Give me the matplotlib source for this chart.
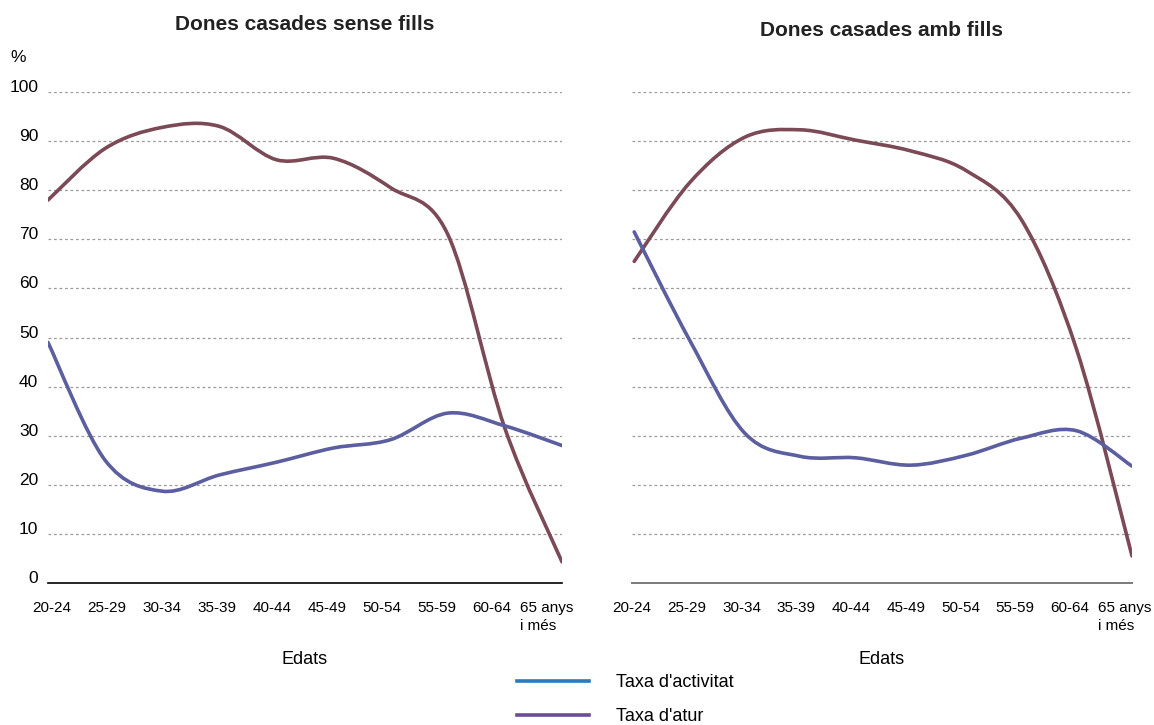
import numpy as np
import matplotlib
matplotlib.use("Agg")
import matplotlib.pyplot as plt
from matplotlib.path import Path
from matplotlib.patches import PathPatch
from matplotlib.lines import Line2D
from matplotlib.transforms import ScaledTranslation

plt.rcParams['font.family'] = ['Liberation Sans', 'DejaVu Sans']

# Dades
edats = ['20-24', '25-29', '30-34', '35-39', '40-44', '45-49',
         '50-54', '55-59', '60-64', '65 anys\ni més']
sense_fills_vermell = [78, 88.5, 92.8, 93.0, 86.2, 86.5, 80.5, 71.0, 31.5, 4.3]
sense_fills_blau = [49, 25.0, 18.7, 22.0, 24.6, 27.5, 29.2, 34.6, 32.0, 28.0]
amb_fills_vermell = [65.5, 81.5, 90.8, 92.3, 90.2, 88.0, 84.0, 74.0, 47.5, 5.5]
amb_fills_blau = [71.5, 49.5, 30.5, 25.8, 25.5, 24.0, 26.0, 29.5, 31.0, 23.8]
llegenda = ["Taxa d'activitat", "Taxa d'atur"]

COL_VERMELL = '#7b4a56'
COL_BLAU = '#5b5e9f'


def linia_suau(ax, ys, color):
    # corba suavitzada (Catmull-Rom -> Bezier) que passa pels punts
    xs = np.arange(len(ys), dtype=float)
    ys = np.asarray(ys, dtype=float)
    pts = np.column_stack([xs, ys])
    verts = [pts[0]]
    codes = [Path.MOVETO]
    n = len(pts)
    for i in range(n - 1):
        p0 = pts[i - 1] if i > 0 else pts[i]
        p1 = pts[i]
        p2 = pts[i + 1]
        p3 = pts[i + 2] if i + 2 < n else pts[i + 1]
        c1 = p1 + (p2 - p0) / 6.0
        c2 = p2 - (p3 - p1) / 6.0
        verts += [c1, c2, p2]
        codes += [Path.CURVE4] * 3
    patch = PathPatch(Path(verts, codes), facecolor='none', edgecolor=color,
                      linewidth=2.6, capstyle='round', joinstyle='round', zorder=3)
    ax.add_patch(patch)


fig = plt.figure(figsize=(11.54, 7.25), dpi=100)
W, H = 1154, 725
ax1 = fig.add_axes([48 / W, 1 - 583 / H, (562 - 48) / W, (583 - 92) / H])
ax2 = fig.add_axes([632 / W, 1 - 583 / H, (1132 - 632) / W, (583 - 92) / H])

for ax, verm, blau in [(ax1, sense_fills_vermell, sense_fills_blau),
                       (ax2, amb_fills_vermell, amb_fills_blau)]:
    linia_suau(ax, verm, COL_VERMELL)
    linia_suau(ax, blau, COL_BLAU)
    ax.set_xlim(0, 9)
    ax.set_ylim(0, 100)
    ax.set_yticks(np.arange(0, 101, 10))
    ax.yaxis.grid(True, linestyle=(0, (2.2, 2.2)), color='#9a9a9a', linewidth=0.9)
    ax.set_axisbelow(True)
    for s in ['top', 'right', 'left']:
        ax.spines[s].set_visible(False)
    ax.tick_params(axis='both', length=0)

ax1.spines['bottom'].set_color('black')
ax1.spines['bottom'].set_linewidth(1.2)
ax2.spines['bottom'].set_color('#7a7a7a')
ax2.spines['bottom'].set_linewidth(1.4)

# etiquetes eix x
ax1.set_xticks(np.arange(10) * 0.963 + 0.07)
ax2.set_xticks(np.arange(10) * 0.99 - 0.04)
for ax in (ax1, ax2):
    ax.set_xticklabels(edats, fontsize=11)
    ax.tick_params(axis='x', pad=13)
    for lbl in ax.get_xticklabels():
        lbl.set_verticalalignment('top')
        lbl.set_multialignment('left')
        lbl.set_linespacing(1.35)

ax1.set_yticklabels([str(v) for v in range(0, 101, 10)], fontsize=12.5)
ax1.tick_params(axis='y', pad=7)
off = ScaledTranslation(0, 0.06, fig.dpi_scale_trans)
for lbl in ax1.get_yticklabels():
    lbl.set_transform(lbl.get_transform() + off)
ax2.set_yticklabels([])

fig.text(305 / W, 1 - 25 / H, 'Dones casades sense fills', ha='center', va='center',
         fontsize=15, fontweight='bold', color='#222222')
fig.text(882 / W, 1 - 30 / H, 'Dones casades amb fills', ha='center', va='center',
         fontsize=15, fontweight='bold', color='#222222')
fig.text(18 / W, 1 - 57 / H, '%', ha='center', va='center', fontsize=12.5)
fig.text(305 / W, 1 - 660 / H, 'Edats', ha='center', va='center', fontsize=13)
fig.text(882 / W, 1 - 660 / H, 'Edats', ha='center', va='center', fontsize=13)

handles = [Line2D([], [], color='#2a7abf', linewidth=2.6),
           Line2D([], [], color='#6a4c9c', linewidth=2.6)]
fig.legend(handles, llegenda, loc='upper left', bbox_to_anchor=(517 / W, 1 - 674 / H),
           frameon=False, fontsize=13, handlelength=4.0, handletextpad=1.5,
           labelspacing=0.95, borderpad=0, borderaxespad=0)

fig.savefig('out.png', dpi=100)
